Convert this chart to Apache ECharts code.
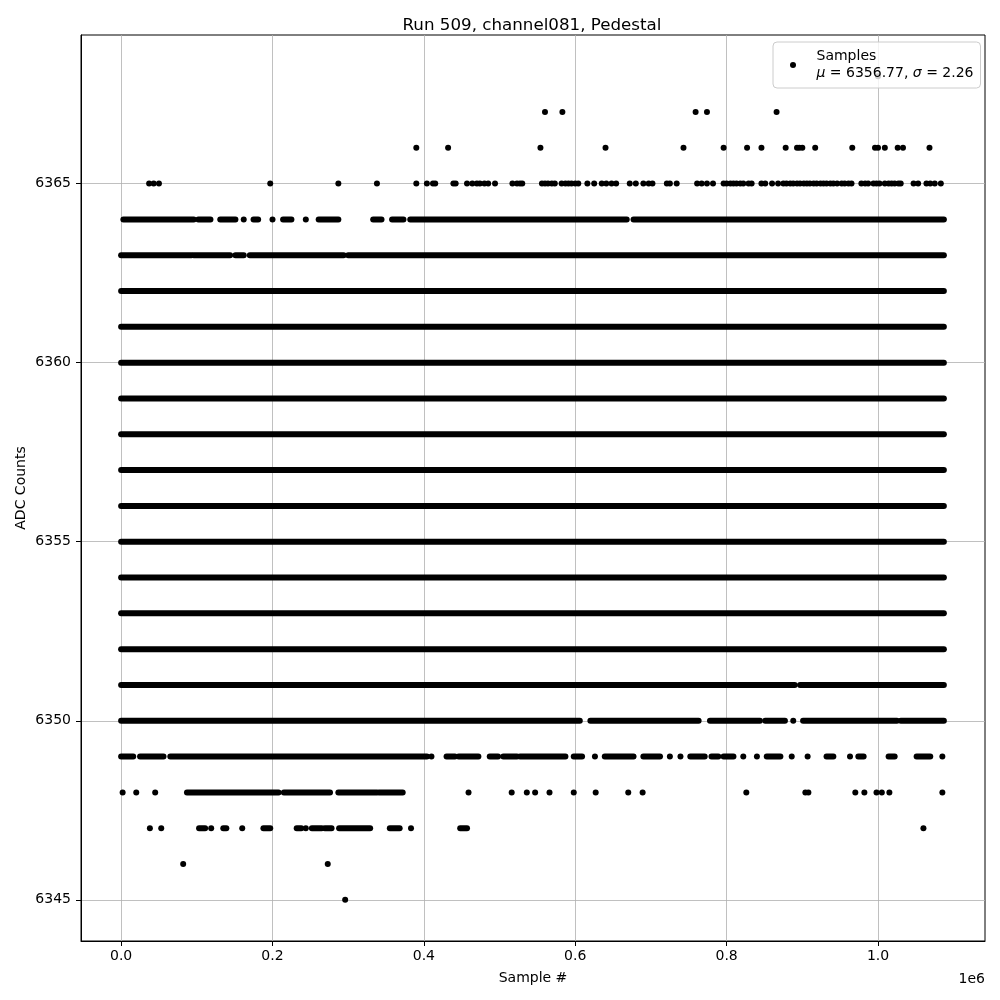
<!DOCTYPE html>
<html><head><meta charset="utf-8">
<script src="https://cdn.jsdelivr.net/npm/echarts@6/dist/echarts.min.js"></script>
<style>html,body{margin:0;padding:0;background:#fff}#c{width:1000px;height:1000px}</style>
</head><body><div id="c"></div>
<script>
const titleText = 'Run 509, channel081, Pedestal';
const xName = 'Sample #';
const yName = 'ADC Counts';
const xOffsetText = '1e6';
const xTicks = [0, 200e3, 400e3, 600e3, 800e3, 1000e3];
const xTickLabels = ['0.0', '0.2', '0.4', '0.6', '0.8', '1.0'];
const yTicks = [6345, 6350, 6355, 6360, 6365];
const yTickLabels = ['6345', '6350', '6355', '6360', '6365'];
const xRange = [-53e3, 1141.35e3];
const yRange = [6343.85, 6369.15];
const legendName = 'Samples';
const meanValue = '6356.77';
const sigmaValue = '2.26';

// rows that are filled from first to last sample
const fullRows = [6352, 6353, 6354, 6355, 6356, 6357, 6358, 6359, 6360, 6361, 6362];
const fullSpan = [0, 1087e3];

// dense runs of samples [from, to] per ADC level
const segs6364 = [[3e3,96e3],[102e3,118e3],[131e3,151e3],[175e3,181e3],[214e3,225e3],[261e3,287e3],[333e3,344e3],[358e3,373e3],[382e3,668e3],[677e3,1087e3]];
const segs6363 = [[0,93e3],[96e3,144e3],[151e3,162e3],[170e3,294e3],[300e3,1087e3]];
const segs6351 = [[0,890e3],[897e3,1087e3]];
const segs6350 = [[0,606e3],[620e3,763e3],[778e3,844e3],[851e3,877e3],[901e3,1025e3],[1030e3,1087e3]];
const segs6349 = [[0,16e3],[25e3,56e3],[65e3,404e3],[430e3,441e3],[446e3,472e3],[487e3,498e3],[505e3,523e3],[527e3,587e3],[598e3,609e3],[639e3,677e3],[690e3,712e3],[752e3,771e3],[780e3,789e3],[796e3,809e3],[853e3,871e3],[932e3,941e3],[974e3,981e3],[1014e3,1022e3],[1051e3,1069e3]];
const segs6348 = [[87e3,208e3],[215e3,276e3],[287e3,338e3],[341e3,372e3]];
const segs6347 = [[103e3,111e3],[135e3,139e3],[188e3,197e3],[232e3,238e3],[252e3,265e3],[269e3,278e3],[288e3,329e3],[355e3,368e3],[448e3,457e3]];

// isolated samples per ADC level
const pts6368 = [1000e3];
const pts6367 = [560e3,583e3,759e3,774e3,866e3];
const pts6366 = [390e3,432e3,554e3,640e3,743e3,796e3,827e3,846e3,878e3,893e3,896e3,900e3,917e3,966e3,996e3,1000e3,1009e3,1026e3,1033e3,1068e3];
const pts6365 = [37e3,43e3,50e3,197e3,287e3,338e3,390e3,404e3,412e3,415e3,439e3,442e3,457e3,464e3,470e3,474e3,480e3,485e3,494e3,517e3,523e3,527e3,530e3,
  556e3,560e3,564e3,569e3,573e3,582e3,587e3,591e3,595e3,600e3,604e3,616e3,625e3,635e3,641e3,648e3,654e3,672e3,680e3,690e3,697e3,702e3,721e3,725e3,734e3,
  761e3,767e3,774e3,782e3,796e3,800e3,805e3,809e3,813e3,818e3,822e3,829e3,833e3,846e3,851e3,860e3,868e3,875e3,879e3,884e3,888e3,893e3,897e3,902e3,906e3,
  910e3,915e3,919e3,924e3,928e3,932e3,937e3,941e3,946e3,952e3,956e3,961e3,965e3,978e3,983e3,987e3,994e3,998e3,1002e3,1009e3,1014e3,1018e3,1022e3,1027e3,
  1030e3,1047e3,1053e3,1064e3,1069e3,1075e3,1083e3];
const pts6364 = [162e3,200e3,244e3];
const pts6350 = [888e3];
const pts6349 = [410e3,626e3,725e3,739e3,822e3,840e3,886e3,907e3,963e3,1085e3];
const pts6348 = [2e3,20e3,45e3,459e3,516e3,536e3,547e3,566e3,598e3,627e3,670e3,689e3,826e3,904e3,908e3,970e3,982e3,998e3,1005e3,1015e3,1085e3];
const pts6347 = [38e3,53e3,119e3,160e3,244e3,383e3,1060e3];
const pts6346 = [82e3,273e3];
const pts6345 = [296e3];

const segRows = [[6364, segs6364],[6363, segs6363],[6351, segs6351],[6350, segs6350],[6349, segs6349],[6348, segs6348],[6347, segs6347]];
const ptRows = [[6368, pts6368],[6367, pts6367],[6366, pts6366],[6365, pts6365],[6364, pts6364],[6350, pts6350],[6349, pts6349],[6348, pts6348],[6347, pts6347],[6346, pts6346],[6345, pts6345]];

const segData = [];
fullRows.forEach(y => segData.push([fullSpan[0], fullSpan[1], y]));
segRows.forEach(([y, segs]) => segs.forEach(s => segData.push([s[0], s[1], y])));
const ptData = [];
ptRows.forEach(([y, xs]) => xs.forEach(x => ptData.push([x, y])));

const FONT = 'DejaVu Sans';
const DOT = 6;
const chart = echarts.init(document.getElementById('c'), null, {renderer: 'canvas'});
chart.setOption({
  animation: false,
  backgroundColor: '#fff',
  textStyle: {fontFamily: FONT},
  title: {
    text: titleText, left: 527, top: 12, textAlign: 'center',
    textStyle: {fontFamily: FONT, fontSize: 16.7, fontWeight: 'normal', color: '#000'}
  },
  grid: {left: 81, top: 35, width: 904, height: 906, show: true, borderColor: '#000', borderWidth: 1, backgroundColor: 'transparent'},
  legend: {
    left: 773, top: 42, orient: 'vertical',
    backgroundColor: 'rgba(255,255,255,0.8)', borderColor: '#cccccc', borderWidth: 1, borderRadius: 4,
    padding: [6, 7, 6, 17], itemWidth: 37, itemHeight: DOT,
    data: [{name: legendName, icon: 'circle'}],
    formatter: () => '{n|' + legendName + '}\n{m|μ} = ' + meanValue + ', {m|σ} = ' + sigmaValue,
    textStyle: {
      fontFamily: FONT, fontSize: 14, color: '#000', lineHeight: 17,
      rich: {n: {fontFamily: FONT, fontSize: 14, lineHeight: 17}, m: {fontFamily: FONT, fontSize: 14, fontStyle: 'italic', lineHeight: 17}}
    },
    selectedMode: false
  },
  xAxis: {
    type: 'value', min: xRange[0], max: xRange[1],
    name: xName, nameLocation: 'middle', nameGap: 30, nameMoveOverlap: false,
    nameTextStyle: {fontFamily: FONT, fontSize: 14, color: '#000'},
    axisLine: {show: true, onZero: false, lineStyle: {color: '#000', width: 1}},
    axisTick: {show: true, length: 5, lineStyle: {color: '#000'}, customValues: xTicks},
    axisLabel: {show: true, margin: 8, fontFamily: FONT, fontSize: 14, color: '#000', customValues: xTicks,
      formatter: v => xTickLabels[xTicks.indexOf(v)] ?? ''},
    splitLine: {show: true, lineStyle: {color: '#b0b0b0', width: 0.8}}
  },
  yAxis: {
    type: 'value', min: yRange[0], max: yRange[1],
    name: yName, nameLocation: 'middle', nameGap: 53, nameMoveOverlap: false,
    nameTextStyle: {fontFamily: FONT, fontSize: 14, color: '#000'},
    axisLine: {show: true, onZero: false, lineStyle: {color: '#000', width: 1}},
    axisTick: {show: true, length: 5, lineStyle: {color: '#000'}, customValues: yTicks},
    axisLabel: {show: true, margin: 10, fontFamily: FONT, fontSize: 14, color: '#000', customValues: yTicks,
      formatter: v => yTickLabels[yTicks.indexOf(v)] ?? ''},
    splitLine: {show: true, lineStyle: {color: '#b0b0b0', width: 0.8}}
  },
  graphic: [{type: 'text', right: 15, top: 972, style: {text: xOffsetText, font: '14px "DejaVu Sans"', fill: '#000'}}],
  series: [
    {
      name: legendName, type: 'custom', data: segData, encode: {x: [0, 1], y: 2}, clip: true,
      itemStyle: {color: '#000'},
      renderItem: (params, api) => {
        const y = api.value(2);
        const p0 = api.coord([api.value(0), y]);
        const p1 = api.coord([api.value(1), y]);
        return {type: 'line', shape: {x1: p0[0], y1: p0[1], x2: p1[0], y2: p1[1]},
          style: {stroke: '#000', lineWidth: DOT, lineCap: 'round'}};
      }
    },
    {
      name: legendName, type: 'scatter', data: ptData, symbol: 'circle', symbolSize: DOT,
      itemStyle: {color: '#000', opacity: 1}, clip: true
    }
  ]
});
</script></body></html>
